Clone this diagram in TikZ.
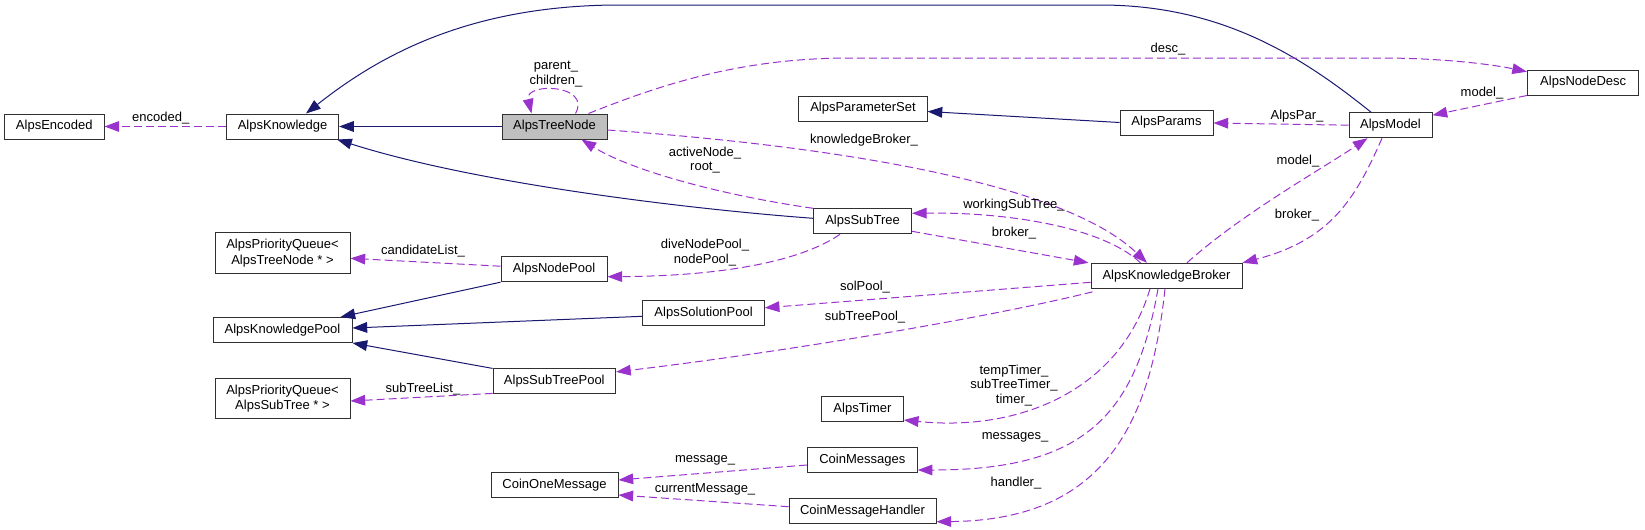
\documentclass[tikz,border=0pt]{standalone}
\usepackage{fontspec}
\setmainfont{Liberation Sans}
\usetikzlibrary{arrows.meta,calc}
\definecolor{cInh}{HTML}{191970}
\definecolor{cUse}{HTML}{9A32CD}
\definecolor{cBord}{HTML}{303030}
\begin{document}
\begin{tikzpicture}[x=0.75pt,y=-0.75pt,
  every node/.style={font=\fontsize{9.75}{11}\selectfont},
  box/.style={draw=cBord, line width=0.75pt, fill=white, inner sep=0pt,
    minimum height=18.75pt, minimum width=#1*0.75pt, align=center, text=black},
  boxtwo/.style={box=#1, minimum height=30.4pt, font=\fontsize{9.75}{11.6}\selectfont},
  lab/.style={inner sep=0pt, align=center, text=black},
  inharrow/.style={draw=cInh, line width=0.75pt, -{Triangle[length=11pt,width=8pt]}},
  usearrow/.style={draw=cUse, line width=0.75pt, dash pattern=on 6pt off 3pt,
    -{Triangle[length=11pt,width=8pt]}},
]
\useasboundingbox (0,0) rectangle (1645,529);

% nodes
\node[box=99.4] (enc) at (54.3,126.5) {AlpsEncoded};
\node[box=112.1] (know) at (282.6,126.5) {AlpsKnowledge};
\node[box=105, fill=gray!50] (tree) at (554.5,126.5) {AlpsTreeNode};
\node[box=128.2] (pset) at (863,108.5) {AlpsParameterSet};
\node[box=93] (params) at (1166.5,122.5) {AlpsParams};
\node[box=83] (model) at (1390.5,125.2) {AlpsModel};
\node[box=111.5] (desc) at (1583.2,82.5) {AlpsNodeDesc};
\node[box=97.8] (sub) at (862.6,221.3) {AlpsSubTree};
\node[box=151] (broker) at (1166.5,275.8) {AlpsKnowledgeBroker};
\node[boxtwo=135] (pq1) at (282.5,253) {AlpsPriorityQueue<\\AlpsTreeNode * >};
\node[box=106] (npool) at (554,269.2) {AlpsNodePool};
\node[box=139] (kpool) at (282.5,330) {AlpsKnowledgePool};
\node[box=121.3] (spool) at (703.6,313.3) {AlpsSolutionPool};
\node[box=122.5] (stpool) at (554.3,381.4) {AlpsSubTreePool};
\node[boxtwo=135] (pq2) at (282.5,398.5) {AlpsPriorityQueue<\\AlpsSubTree * >};
\node[box=81.6] (timer) at (862.5,409.3) {AlpsTimer};
\node[box=110] (cmsgs) at (862.3,460) {CoinMessages};
\node[box=127] (com) at (554.5,485.3) {CoinOneMessage};
\node[box=147] (cmh) at (862.5,510.7) {CoinMessageHandler};

% inheritance
\draw[inharrow] (tree.west) -- (know.east);
\draw[inharrow] ($(model.north)+(-19.5,0)$) .. controls (1300,55) and (1220,5) .. (1100,5)
  -- (620,5) .. controls (470,5) and (380,55) .. ($(know.north)+(23.4,0)$);
\draw[inharrow] ($(sub.west)+(0,-3)$) .. controls (700,210) and (480,185) .. ($(know.south east)+(-2,0)$);
\draw[inharrow] (params.west) -- ($(pset.east)+(0,3)$);
\draw[inharrow] (npool.south west) -- ($(kpool.north east)+(-12,0)$);
\draw[inharrow] ($(spool.west)+(0,3)$) -- ($(kpool.east)+(0,-2)$);
\draw[inharrow] (stpool.north west) -- (kpool.south east);

% usage
\draw[usearrow] (know.west) -- (enc.east);
\node[lab] at (160.7,118) {encoded\_};

\draw[usearrow] ($(tree.north)+(21,0)$) .. controls (592,84) and (524,82) .. ($(tree.north)+(-23,0)$);
\node[lab] at (556,74) {parent\_\\children\_};

\draw[usearrow] ($(tree.north)+(34,0)$) .. controls (660,85) and (740,58) .. (850,58)
  -- (1380,58) .. controls (1440,58) and (1490,64) .. ($(desc.west)+(0,-10.8)$);
\node[lab] at (1168,49) {desc\_};

\draw[usearrow] ($(tree.east)+(0,3.5)$) .. controls (820,145) and (1060,180) .. ($(broker.north)+(-19.5,0)$);
\node[lab] at (864,140) {knowledgeBroker\_};

\draw[usearrow] (sub.north west) .. controls (720,195) and (630,170) .. ($(tree.south)+(27,0)$);
\node[lab] at (705,160) {activeNode\_\\root\_};

\draw[usearrow] (model.west) -- ($(params.east)+(0,0.5)$);
\node[lab] at (1297,116) {AlpsPar\_};

\draw[usearrow] (desc.south west) -- ($(model.east)+(0,-10)$);
\node[lab] at (1482,92.7) {model\_};

\draw[usearrow] ($(broker.north)+(20.5,0)$) .. controls (1240,215) and (1320,170) .. ($(model.south)+(-23,0)$);
\node[lab] at (1298,161) {model\_};

\draw[usearrow] ($(model.south)+(-8.5,0)$) .. controls (1355,200) and (1330,240) .. (broker.north east);
\node[lab] at (1297,215) {broker\_};

\draw[usearrow] ($(broker.north)+(-26,0)$) .. controls (1100,225) and (1000,212) .. ($(sub.east)+(0,-8)$);
\node[lab] at (1014,205) {workingSubTree\_};

\draw[usearrow] ($(sub.east)+(0,10)$) -- ($(broker.north west)+(-2,0)$);
\node[lab] at (1014,233) {broker\_};

\draw[usearrow] ($(sub.south)+(-22.6,0)$) .. controls (800,262) and (720,276) .. ($(npool.east)+(0,7.5)$);
\node[lab] at (705,252.5) {diveNodePool\_\\nodePool\_};

\draw[usearrow] ($(npool.west)+(0,-3)$) -- ($(pq1.east)+(0,5.3)$);
\node[lab] at (423,250.7) {candidateList\_};

\draw[usearrow] ($(broker.west)+(0,6.5)$) -- ($(spool.east)+(0,-5.5)$);
\node[lab] at (865,287) {solPool\_};

\draw[usearrow] ($(broker.south west)+(2,3)$) .. controls (1000,315) and (800,350) .. ($(stpool.east)+(0,-9.5)$);
\node[lab] at (865,316.7) {subTreePool\_};

\draw[usearrow] ($(stpool.south west)+(0,-1)$) -- ($(pq2.east)+(0,2.5)$);
\node[lab] at (423,389) {subTreeList\_};

\draw[usearrow] ($(broker.south)+(-16.5,0)$) .. controls (1120,390) and (1020,432) .. ($(timer.east)+(0,10.7)$);
\node[lab] at (1014,385.5) {tempTimer\_\\subTreeTimer\_\\timer\_};

\draw[usearrow] ($(broker.south)+(-8.5,0)$) .. controls (1135,420) and (1080,470) .. ($(cmsgs.east)+(0,10)$);
\node[lab] at (1015,437.3) {messages\_};

\draw[usearrow] ($(broker.south)+(-1.5,0)$) .. controls (1150,430) and (1100,520) .. ($(cmh.east)+(0,11)$);
\node[lab] at (1016,483.3) {handler\_};

\draw[usearrow] ($(cmsgs.west)+(0,5)$) -- ($(com.east)+(0,-5.3)$);
\node[lab] at (705,460) {message\_};

\draw[usearrow] ($(cmh.west)+(0,-4)$) -- ($(com.east)+(0,9.7)$);
\node[lab] at (705,489) {currentMessage\_};
\end{tikzpicture}
\end{document}
